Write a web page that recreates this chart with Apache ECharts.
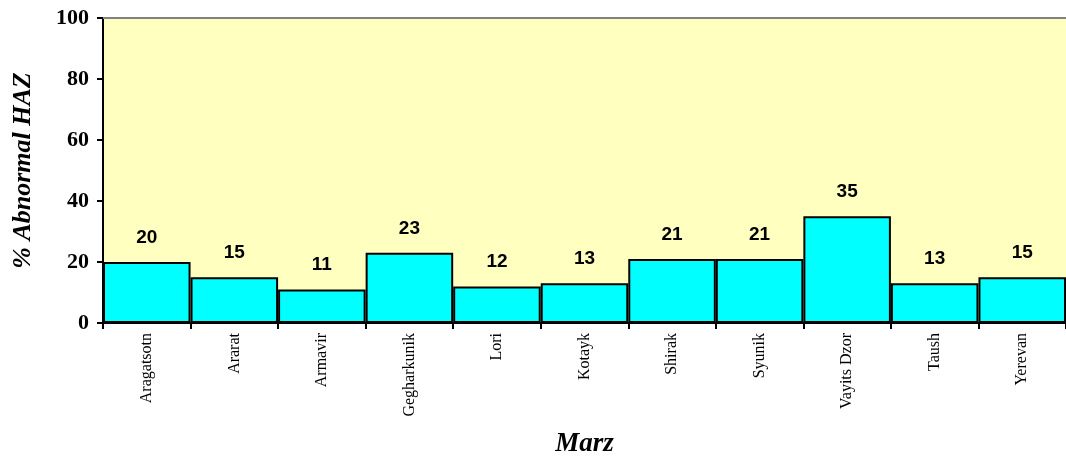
<!DOCTYPE html>
<html>
<head>
<meta charset="utf-8">
<script src="https://cdn.jsdelivr.net/npm/echarts@6/dist/echarts.min.js"></script>
<style>
  html, body { margin: 0; padding: 0; background: #ffffff; }
  #chart { width: 1066px; height: 458px; }
</style>
</head>
<body>
<div id="chart"></div>
<script>
// Share of children with abnormal height-for-age, by marz
const marzNames = ['Aragatsotn', 'Ararat', 'Armavir', 'Gegharkunik', 'Lori', 'Kotayk',
                   'Shirak', 'Syunik', 'Vayits Dzor', 'Taush', 'Yerevan'];
const abnormalHAZ = [20, 15, 11, 23, 12, 13, 21, 21, 35, 13, 15];
const yTicks = [0, 20, 40, 60, 80, 100];

const serif = '"Liberation Serif", "Times New Roman", serif';
const sans = '"Liberation Sans", Arial, sans-serif';

const chart = echarts.init(document.getElementById('chart'), null, { renderer: 'canvas' });

chart.setOption({
  animation: false,
  backgroundColor: '#ffffff',
  grid: {
    left: 103, right: 0, top: 18, bottom: 135,
    containLabel: false,
    outerBoundsMode: 'none',
    show: true,
    backgroundColor: '#FFFFC0',
    borderWidth: 0
  },
  xAxis: [
    {
      type: 'category',
      data: marzNames,
      position: 'bottom',
      name: 'Marz',
      nameLocation: 'middle',
      nameGap: 108,
      nameTextStyle: { fontFamily: serif, fontWeight: 'bold', fontStyle: 'italic', fontSize: 27, color: '#000' },
      axisLine: { lineStyle: { color: '#000', width: 2 } },
      axisTick: { show: true, alignWithLabel: false, length: 6, lineStyle: { color: '#000', width: 2 } },
      axisLabel: { rotate: 90, interval: 0, margin: 10, fontFamily: serif, fontSize: 16, color: '#000' }
    },
    {
      type: 'category',
      data: marzNames,
      position: 'top',
      axisLine: { lineStyle: { color: '#808080', width: 2 } },
      axisTick: { show: false },
      axisLabel: { show: false }
    }
  ],
  yAxis: {
    type: 'value',
    min: yTicks[0],
    max: yTicks[yTicks.length - 1],
    interval: yTicks[1] - yTicks[0],
    name: '% Abnormal HAZ',
    nameLocation: 'middle',
    nameGap: 67,
    nameTextStyle: { fontFamily: serif, fontWeight: 'bold', fontStyle: 'italic', fontSize: 26, color: '#000' },
    axisLine: { show: true, lineStyle: { color: '#000', width: 2 } },
    axisTick: { show: true, length: 6, lineStyle: { color: '#000', width: 2 } },
    axisLabel: { margin: 14, fontFamily: serif, fontWeight: 'bold', fontSize: 22, color: '#000' },
    splitLine: { show: false }
  },
  series: [{
    type: 'bar',
    data: abnormalHAZ,
    barCategoryGap: 0,
    itemStyle: { color: '#00FFFF', borderColor: '#000', borderWidth: 2 },
    label: {
      show: true,
      position: 'top',
      distance: 15,
      fontFamily: sans,
      fontWeight: 'bold',
      fontSize: 19,
      color: '#000'
    }
  }]
});
</script>
</body>
</html>
